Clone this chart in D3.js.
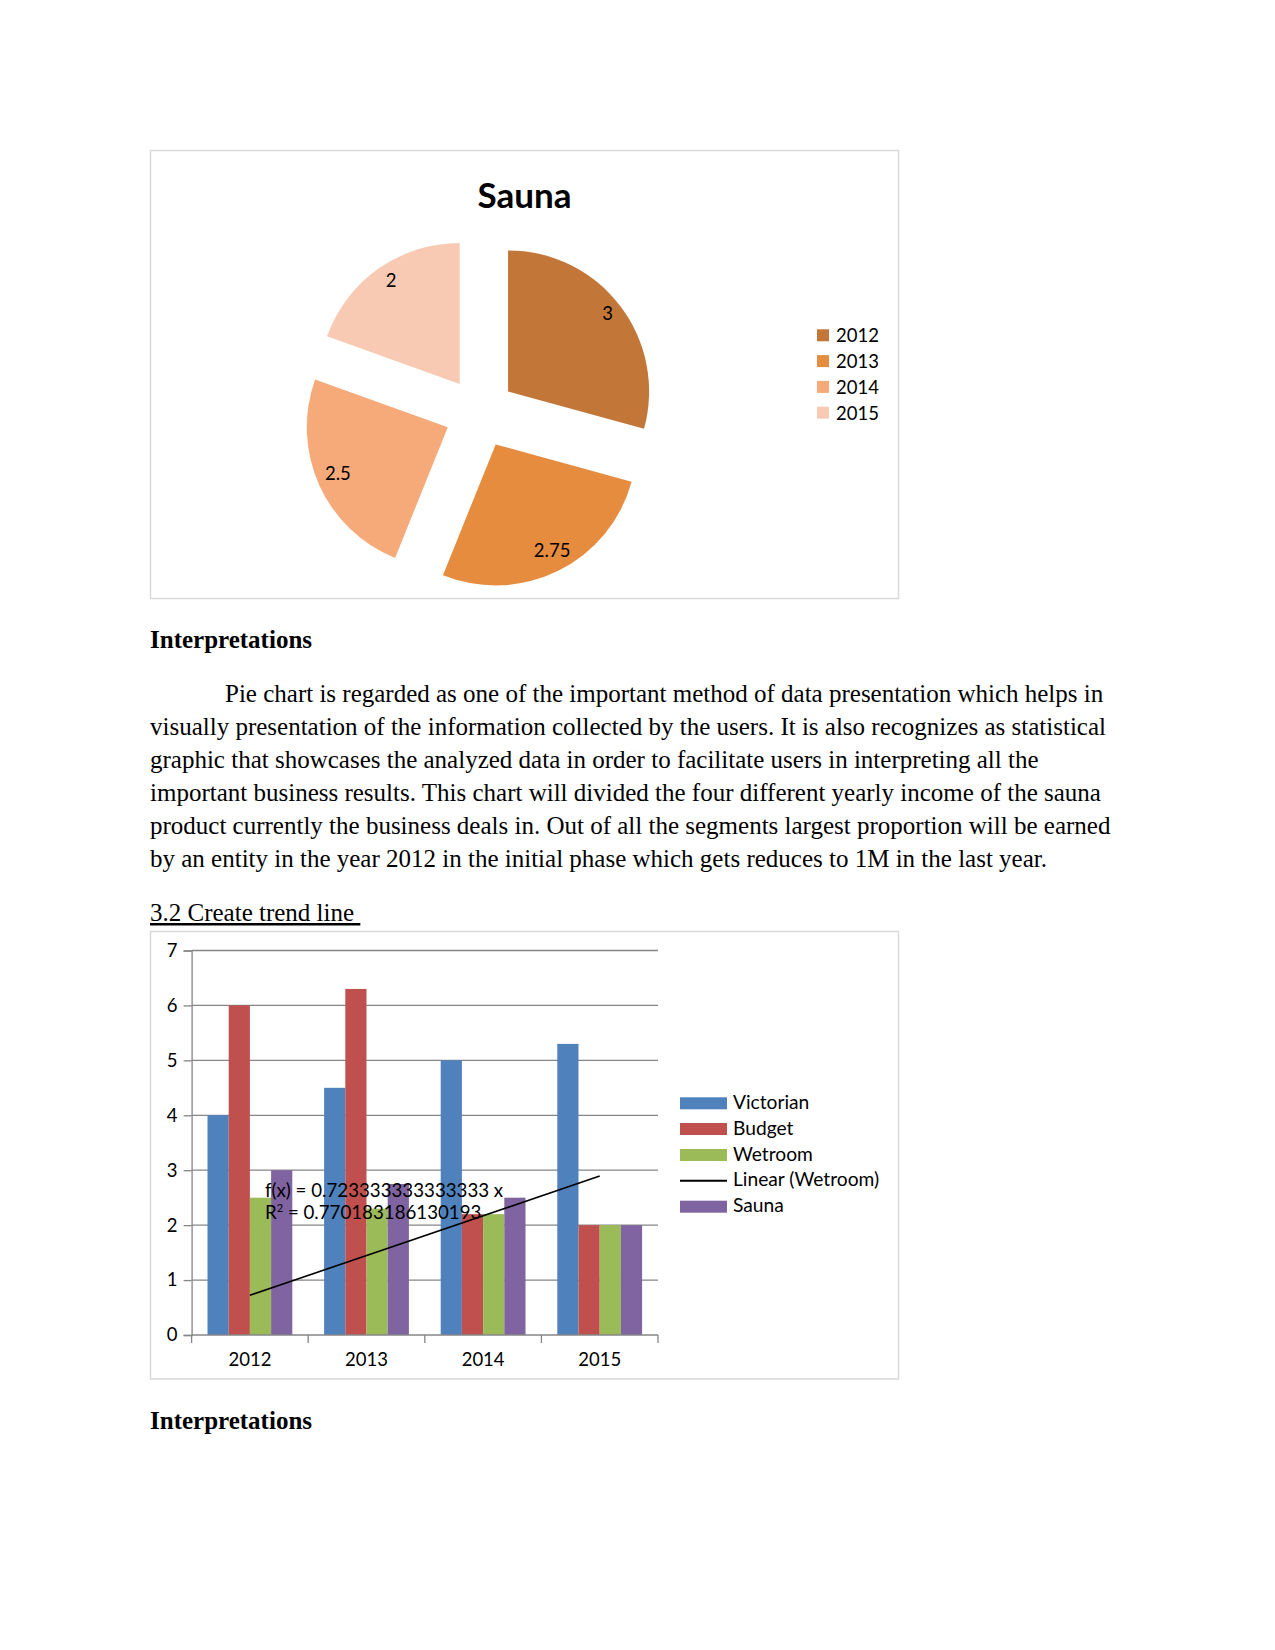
<!DOCTYPE html>
<html>
<head>
<meta charset="utf-8">
<script src="https://cdn.jsdelivr.net/npm/d3@7/dist/d3.min.js"></script>
<style>
  html, body { margin: 0; padding: 0; background: #fff; }
  svg { display: block; }
</style>
</head>
<body>
<svg id="page" width="1275" height="1650"></svg>
<script>
// ---------- DATA ----------
const pieTitle = "Sauna";
const pieYears = ["2012", "2013", "2014", "2015"];
const saunaShare = [3, 2.75, 2.5, 2];
const pieColors = ["#c27738", "#e68c3f", "#f6aa7a", "#f9cab3"];

const barCategories = ["2012", "2013", "2014", "2015"];
const seriesNames = ["Victorian", "Budget", "Wetroom", "Sauna"];
const victorian = [4, 4.5, 5, 5.3];
const budget = [6, 6.3, 2.2, 2];
const wetroom = [2.5, 2.3, 2.2, 2];
const sauna = [3, 2.75, 2.5, 2];
const seriesColors = ["#4f81bd", "#c0504d", "#9bbb59", "#8064a2"];
const yTickValues = [0, 1, 2, 3, 4, 5, 6, 7];
const legendItems = ["Victorian", "Budget", "Wetroom", "Linear (Wetroom)", "Sauna"];
const trendLabel1 = "f(x) = 0.723333333333333 x";
const trendLabel2 = "= 0.770183186130193";

const heading1 = "Interpretations";
const paragraph = [
  "Pie chart is regarded as one of the important method of data presentation which helps in",
  "visually presentation of the information collected by the users. It is also recognizes as statistical",
  "graphic that showcases the analyzed data in order to facilitate users in interpreting all the",
  "important business results. This chart will divided the four different yearly income of the sauna",
  "product currently the business deals in. Out of all the segments largest proportion will be earned",
  "by an entity in the year 2012 in the initial phase which gets reduces to 1M in the last year."
];
const heading2 = "3.2 Create trend line ";
const heading3 = "Interpretations";

// ---------- PAGE ----------
const svg = d3.select("#page");
const chartFont = "Lato, 'Noto Sans', sans-serif";
const bodyFont = "'Liberation Serif', 'Times New Roman', serif";

// ---------- PIE CHART ----------
svg.append("rect").attr("x", 150.5).attr("y", 150.5).attr("width", 748).attr("height", 448)
  .attr("fill", "#fff").attr("stroke", "#d9d9d9").attr("stroke-width", 1.5);

svg.append("text").attr("x", 524.5).attr("y", 208)
  .attr("text-anchor", "middle").attr("font-family", chartFont)
  .attr("font-weight", "bold").attr("font-size", 35).attr("fill", "#000")
  .text(pieTitle);

const pieData = d3.pie().sort(null).value(d => d)(saunaShare);
const R = 141, explode = 35.3;
const pieG = svg.append("g").attr("transform", "translate(480,412.8)");
const arc = d3.arc().innerRadius(0).outerRadius(R);
pieData.forEach((d, i) => {
  const mid = (d.startAngle + d.endAngle) / 2;
  const dx = Math.sin(mid) * explode, dy = -Math.cos(mid) * explode;
  const g = pieG.append("g").attr("transform", `translate(${dx},${dy})`);
  g.append("path").attr("d", arc(d)).attr("fill", pieColors[i]);
  const lp = [Math.sin(mid) * R * 0.87 + 2, -Math.cos(mid) * R * 0.87 - 4];
  g.append("text").attr("x", lp[0]).attr("y", lp[1])
    .attr("text-anchor", "middle").attr("dominant-baseline", "central")
    .attr("font-family", chartFont).attr("font-size", 18.5).attr("fill", "#000")
    .text(d.data);
});

const pieLeg = svg.append("g");
pieYears.forEach((y, i) => {
  const cy = 335.3 + i * 25.8;
  pieLeg.append("rect").attr("x", 817).attr("y", cy - 6).attr("width", 12).attr("height", 12).attr("fill", pieColors[i]);
  pieLeg.append("text").attr("x", 836).attr("y", cy).attr("dominant-baseline", "central")
    .attr("font-family", chartFont).attr("font-size", 18.5).attr("fill", "#000").text(y);
});

// ---------- BODY TEXT ----------
svg.append("text").attr("x", 150).attr("y", 648).attr("font-family", bodyFont)
  .attr("font-weight", "bold").attr("font-size", 25).text(heading1);
paragraph.forEach((line, i) => {
  svg.append("text").attr("x", i === 0 ? 225 : 150).attr("y", 702.3 + i * 32.9)
    .attr("font-family", bodyFont).attr("font-size", 25).attr("fill", "#000").text(line);
});
svg.append("text").attr("x", 150).attr("y", 921).attr("font-family", bodyFont)
  .attr("font-size", 25).attr("text-decoration", "underline").attr("xml:space", "preserve")
  .style("white-space", "pre").text(heading2);
svg.append("text").attr("x", 150).attr("y", 1428.5).attr("font-family", bodyFont)
  .attr("font-weight", "bold").attr("font-size", 25).text(heading3);

// ---------- BAR CHART ----------
svg.append("rect").attr("x", 150.5).attr("y", 931.5).attr("width", 748).attr("height", 447.5)
  .attr("fill", "#fff").attr("stroke", "#d9d9d9").attr("stroke-width", 1.5);

const x0 = d3.scaleBand().domain(barCategories).range([191.6, 658]).padding(0);
const bw = x0.bandwidth();
const x1 = d3.scaleBand().domain(seriesNames).range([bw * 0.75 / 5.5, bw - bw * 0.75 / 5.5]).padding(0);
const y = d3.scaleLinear().domain([0, 7]).range([1335, 950.5]);
const seriesValues = [victorian, budget, wetroom, sauna];

// gridlines
svg.append("g").selectAll("line").data(yTickValues.slice(1)).join("line")
  .attr("x1", 191.6).attr("x2", 658).attr("y1", d => y(d)).attr("y2", d => y(d))
  .attr("stroke", "#868686").attr("stroke-width", 1.3);

// bars
seriesNames.forEach((s, si) => {
  svg.append("g").selectAll("rect").data(barCategories).join("rect")
    .attr("x", c => x0(c) + x1(s))
    .attr("width", x1.bandwidth())
    .attr("y", (c, ci) => y(seriesValues[si][ci]))
    .attr("height", (c, ci) => y(0) - y(seriesValues[si][ci]))
    .attr("fill", seriesColors[si]);
});

// axes
const yAxis = d3.axisLeft(y).tickValues(yTickValues).tickSize(8).tickPadding(6).tickFormat(d3.format("d"));
const yg = svg.append("g").attr("transform", "translate(191.6,0)").call(yAxis);
yg.select(".domain").attr("stroke", "#868686").attr("stroke-width", 1.3);
yg.selectAll(".tick line").attr("stroke", "#868686").attr("stroke-width", 1.3);
yg.selectAll(".tick text").attr("font-family", chartFont).attr("font-size", 18.5).attr("fill", "#000");

const xAxis = d3.axisBottom(x0).tickSize(0).tickPadding(18);
const xg = svg.append("g").attr("transform", `translate(0,${y(0)})`).call(xAxis);
xg.select(".domain").attr("stroke", "#868686").attr("stroke-width", 1.3).attr("d", `M191.6,0H658`);
xg.selectAll(".tick text").attr("font-family", chartFont).attr("font-size", 18.5).attr("fill", "#000");
const boundaries = barCategories.map(c => x0(c)).concat([x0.range()[1]]);
xg.append("g").selectAll("line").data(boundaries).join("line")
  .attr("x1", d => d).attr("x2", d => d).attr("y1", 0).attr("y2", 8)
  .attr("stroke", "#868686").attr("stroke-width", 1.3);

// trendline: least squares through origin on Wetroom (x = 1..n)
const xs = wetroom.map((_, i) => i + 1);
const slope = d3.sum(wetroom, (v, i) => v * xs[i]) / d3.sum(xs, v => v * v);
const trendPts = [0, wetroom.length - 1].map(i => [x0(barCategories[i]) + bw / 2, y(slope * xs[i])]);
svg.append("path").attr("d", d3.line()(trendPts)).attr("stroke", "#000").attr("stroke-width", 1.6).attr("fill", "none");

svg.append("text").attr("x", 265).attr("y", 1197.3).attr("font-family", chartFont)
  .attr("font-size", 18.7).attr("fill", "#000").text(trendLabel1);
const t2 = svg.append("text").attr("x", 265).attr("y", 1219.3).attr("font-family", chartFont)
  .attr("font-size", 18.7).attr("fill", "#000");
t2.append("tspan").text("R");
t2.append("tspan").attr("font-size", 11).attr("dy", -7).text("2");
t2.append("tspan").attr("dy", 7).text(" " + trendLabel2);

// legend
const leg = svg.append("g");
const legendCy = [1103.3, 1129, 1155, 1180.7, 1206.7];
legendItems.forEach((name, i) => {
  const cy = legendCy[i];
  if (name.startsWith("Linear")) {
    leg.append("line").attr("x1", 680).attr("x2", 727).attr("y1", cy).attr("y2", cy)
      .attr("stroke", "#000").attr("stroke-width", 2);
  } else {
    const si = seriesNames.indexOf(name);
    leg.append("rect").attr("x", 680).attr("y", cy - 6).attr("width", 47).attr("height", 12)
      .attr("fill", seriesColors[si]);
  }
  leg.append("text").attr("x", 733).attr("y", cy - 2).attr("dominant-baseline", "central")
    .attr("font-family", chartFont).attr("font-size", 19.2).attr("fill", "#000").text(name);
});
</script>
</body>
</html>
